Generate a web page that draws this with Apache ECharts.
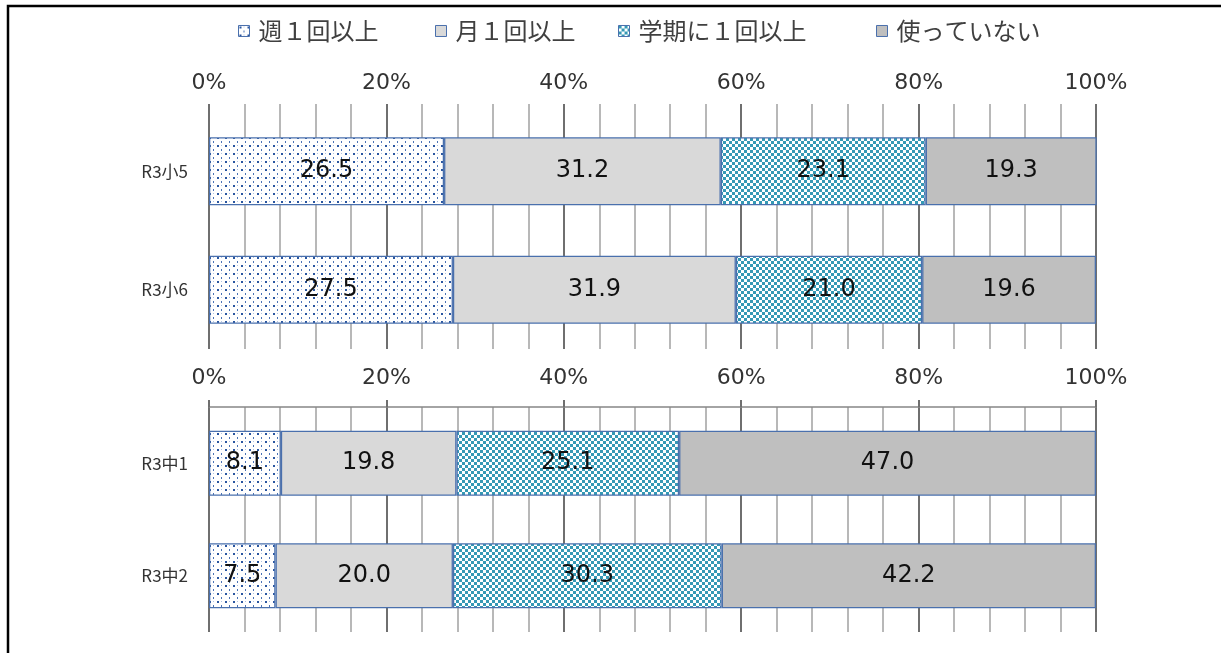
<!DOCTYPE html>
<html>
<head>
<meta charset="utf-8">
<script src="https://cdn.jsdelivr.net/npm/echarts@6/dist/echarts.min.js"></script>
<style>
html,body{margin:0;padding:0;background:#fff;}
#c{width:1221px;height:653px;}
</style>
</head>
<body>
<div id="c"></div>
<script>
// ---- data ----
var seriesNames = ['週１回以上', '月１回以上', '学期に１回以上', '使っていない'];
var catsTop = ['R3小5', 'R3小6'];
var catsBottom = ['R3中1', 'R3中2'];
var weeklyTop = [26.5, 27.5];
var monthlyTop = [31.2, 31.9];
var termTop = [23.1, 21.0];
var noneTop = [19.3, 19.6];
var weeklyBottom = [8.1, 7.5];
var monthlyBottom = [19.8, 20.0];
var termBottom = [25.1, 30.3];
var noneBottom = [47.0, 42.2];
var xTicks = [0, 20, 40, 60, 80, 100];

// ---- patterns ----
function dotPattern() {
  var c = document.createElement('canvas');
  c.width = 8; c.height = 8;
  var g = c.getContext('2d');
  g.fillStyle = '#ffffff'; g.fillRect(0, 0, 8, 8);
  g.fillStyle = '#2a56a0';
  g.fillRect(1, 1, 2, 2);
  g.fillStyle = '#4a72b5';
  g.fillRect(5, 5, 1, 2);
  g.fillStyle = '#b0c3e3';
  g.fillRect(5, 1, 1, 1);
  return { image: c, repeat: 'repeat' };
}
function checkPattern() {
  var c = document.createElement('canvas');
  c.width = 6; c.height = 6;
  var g = c.getContext('2d');
  g.fillStyle = '#ffffff'; g.fillRect(0, 0, 6, 6);
  g.fillStyle = '#3599b5';
  g.fillRect(0, 0, 3, 3);
  g.fillRect(3, 3, 3, 3);
  return { image: c, repeat: 'repeat' };
}
var fills = [dotPattern(), '#d9d9d9', checkPattern(), '#bfbfbf'];

var chart = echarts.init(document.getElementById('c'));

function makeXAxis(gridIndex, isTop) {
  return {
    gridIndex: gridIndex,
    type: 'value',
    position: 'top',
    min: xTicks[0],
    max: xTicks[xTicks.length - 1],
    interval: xTicks[1] - xTicks[0],
    axisLabel: {
      formatter: '{value}%',
      fontFamily: 'DejaVu Sans',
      fontSize: 22,
      color: '#333333',
      margin: 18
    },
    axisLine: { show: !isTop, lineStyle: { color: '#868686', width: 1.5 } },
    axisTick: { show: true, length: isTop ? 8 : 7, lineStyle: { color: '#6f6f6f', width: 2 } },
    minorTick: { show: isTop, splitNumber: 5, length: 8, lineStyle: { color: '#b8b8b8', width: 2 } },
    splitLine: { show: true, lineStyle: { color: '#6f6f6f', width: 2 } },
    minorSplitLine: { show: true, lineStyle: { color: '#b8b8b8', width: 2 } }
  };
}
function makeYAxis(gridIndex, cats) {
  return {
    gridIndex: gridIndex,
    type: 'category',
    inverse: true,
    data: cats,
    axisLine: { show: false },
    axisTick: { show: false },
    axisLabel: {
      fontFamily: 'Noto Sans CJK JP',
      fontSize: 17,
      color: '#333333',
      margin: 21
    }
  };
}
function makeSeries(idx, values, gi, barWidth) {
  return {
    name: seriesNames[idx],
    type: 'bar',
    stack: 'g' + gi,
    xAxisIndex: gi,
    yAxisIndex: gi,
    barWidth: barWidth,
    data: values,
    itemStyle: { color: fills[idx], borderColor: '#4a70ad', borderWidth: 1.3 },
    label: {
      show: true,
      position: 'inside',
      formatter: function (p) { return p.value.toFixed(1); },
      fontFamily: 'DejaVu Sans',
      fontSize: 24,
      color: '#111111'
    },
    emphasis: { disabled: true },
    animation: false
  };
}

var legendLefts = [233, 430, 613, 871];
var legends = seriesNames.map(function (n, i) {
  return {
    data: [n],
    left: legendLefts[i],
    top: 14,
    itemWidth: 11,
    itemHeight: 11,
    itemGap: 0,
    icon: 'rect',
    selectedMode: false,
    itemStyle: { borderColor: '#4a70ad', borderWidth: 1 },
    textStyle: { fontFamily: 'Noto Sans CJK JP', fontSize: 24, color: '#404040', padding: [0, 0, 0, 4] }
  };
});

var option = {
  backgroundColor: '#ffffff',
  animation: false,
  legend: legends,
  grid: [
    { left: 209, right: 125, top: 112, height: 237 },
    { left: 209, right: 125, top: 407, height: 225 }
  ],
  xAxis: [makeXAxis(0, true), makeXAxis(1, false)],
  yAxis: [makeYAxis(0, catsTop), makeYAxis(1, catsBottom)],
  series: [
    makeSeries(0, weeklyTop, 0, 68),
    makeSeries(1, monthlyTop, 0, 68),
    makeSeries(2, termTop, 0, 68),
    makeSeries(3, noneTop, 0, 68),
    makeSeries(0, weeklyBottom, 1, 65),
    makeSeries(1, monthlyBottom, 1, 65),
    makeSeries(2, termBottom, 1, 65),
    makeSeries(3, noneBottom, 1, 65)
  ],
  graphic: [{
    type: 'rect',
    shape: { x: 8, y: 6, width: 1400, height: 800 },
    style: { fill: null, stroke: '#000000', lineWidth: 2.5 },
    silent: true
  }]
};
chart.setOption(option);
</script>
</body>
</html>
